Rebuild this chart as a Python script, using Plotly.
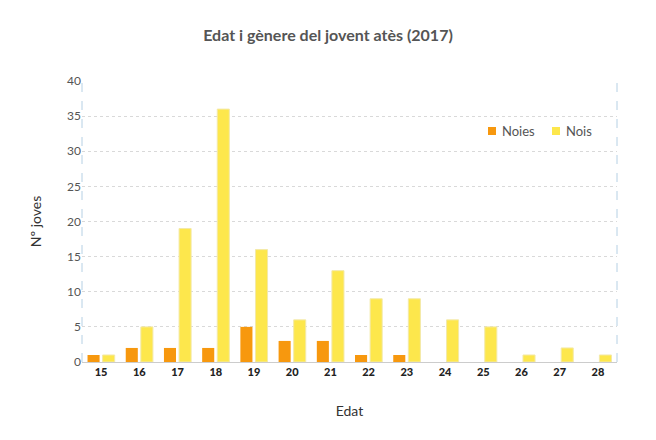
import plotly.graph_objects as go

edats = [str(a) for a in range(15, 29)]
noies = [1, 2, 2, 2, 5, 3, 3, 1, 1, 0, 0, 0, 0, 0]
nois = [1, 5, 19, 36, 16, 6, 13, 9, 9, 6, 5, 1, 2, 1]
series_names = ["Noies", "Nois"]
colors = ["#F7980E", "#FDE74C"]

FONT = "Lato, 'Open Sans', sans-serif"
L, R, T, B = 82, 39, 81, 78
W, H = 656, 440
PW, PH = W - L - R, H - T - B

fig = go.Figure()
fig.add_trace(go.Bar(x=edats, y=noies, name=series_names[0],
                     marker=dict(color=colors[0], line=dict(color=colors[0], width=0))))
fig.add_trace(go.Bar(x=edats, y=nois, name=series_names[1],
                     marker=dict(color=colors[1], line=dict(color="#F3E9A8", width=1))))

fig.update_layout(
    width=W, height=H,
    margin=dict(l=L, r=R, t=T, b=B),
    paper_bgcolor="white", plot_bgcolor="white",
    barmode="group", bargap=0.21, bargroupgap=0.2,
    font=dict(family=FONT, color="#555555"),
    title=dict(text="<b>Edat i gènere del jovent atès (2017)</b>", x=0.5, xanchor="center",
               y=0.92, yanchor="middle", font=dict(size=16, color="#555555")),
    showlegend=False,
    xaxis=dict(title=dict(text="Edat", font=dict(size=14, color="#333333"), standoff=28),
               tickfont=dict(size=11, color="#222222", family="Lato Black, Lato, sans-serif"),
               showline=True, linecolor="#cccccc", linewidth=1, ticks="", showgrid=False),
    yaxis=dict(title=dict(text="Nº joves", font=dict(size=14, color="#333333"), standoff=22),
               range=[0, 40], dtick=5, tickfont=dict(size=12, color="#555555"),
               showgrid=True, gridcolor="#d9d9d9", griddash="dot", gridwidth=1,
               zeroline=False, showline=False, ticks=""),
)

# dashed vertical borders on left and right of plot area
for xv in (0, 1):
    fig.add_shape(type="line", xref="paper", yref="paper", x0=xv, x1=xv, y0=0, y1=1,
                  line=dict(color="#b5d0e4", width=1, dash="dash"))

# manual legend (small squares + labels)
def px_x(p):
    return (p - L) / PW

def px_y(p):
    return (H - B - p) / PH

legend_pos = [(488, 500), (552, 564)]
for (sq, tx), name, col in zip(legend_pos, series_names, colors):
    fig.add_shape(type="rect", xref="paper", yref="paper",
                  x0=px_x(sq), x1=px_x(sq + 8), y0=px_y(135), y1=px_y(127),
                  fillcolor=col, line=dict(width=0))
    fig.add_annotation(xref="paper", yref="paper", x=px_x(tx), y=px_y(131),
                       text=name, showarrow=False, xanchor="left", yanchor="middle",
                       font=dict(size=13, color="#555555"))

fig.write_html("out.html")
